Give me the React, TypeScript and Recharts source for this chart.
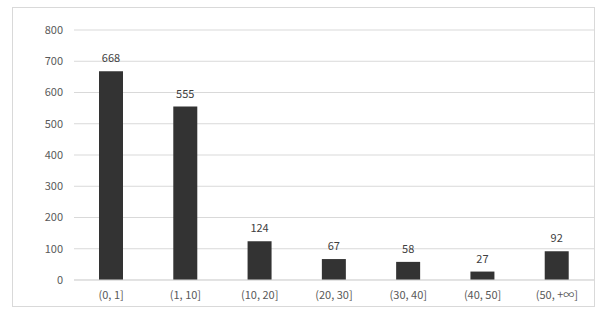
import React from 'react';
import { BarChart, Bar, XAxis, YAxis, CartesianGrid, LabelList } from 'recharts';

const categories = ['(0, 1]', '(1, 10]', '(10, 20]', '(20, 30]', '(30, 40]', '(40, 50]', '(50, +∞]'];
const counts = [668, 555, 124, 67, 58, 27, 92];
const yTicks = [0, 100, 200, 300, 400, 500, 600, 700, 800];

const data = categories.map((c, i) => ({ name: c, value: counts[i] }));

const font = '"Noto Sans CJK JP", "Noto Sans", sans-serif';

export default function App() {
  return (
    <div style={{ position: 'absolute', left: 0, top: 0, width: 609, height: 315, background: '#fff' }}>
      <div style={{ position: 'absolute', left: 12, top: 7, width: 581, height: 298, border: '1px solid #d9d9d9' }} />
      <BarChart
        width={609}
        height={315}
        data={data}
        margin={{ top: 30, right: 15, bottom: 10, left: 0 }}
        style={{ position: 'absolute', left: 0, top: 0 }}
      >
        <CartesianGrid vertical={false} stroke="#d9d9d9" />
        <XAxis
          dataKey="name"
          height={25}
          axisLine={{ stroke: '#d9d9d9' }}
          tickLine={false}
          tickSize={0}
          tickMargin={11}
          tick={{ fill: '#595959', fontSize: 11, fontFamily: font }}
          interval={0}
        />
        <YAxis
          width={74}
          domain={[0, 800]}
          ticks={yTicks}
          axisLine={false}
          tickLine={false}
          tickSize={0}
          tickMargin={11}
          tick={{ fill: '#595959', fontSize: 11, fontFamily: font }}
        />
        <Bar dataKey="value" fill="#333333" barSize={24} isAnimationActive={false}>
          <LabelList dataKey="value" position="top" offset={9} style={{ fill: '#404040', fontSize: 11, fontFamily: font }} />
        </Bar>
      </BarChart>
    </div>
  );
}
